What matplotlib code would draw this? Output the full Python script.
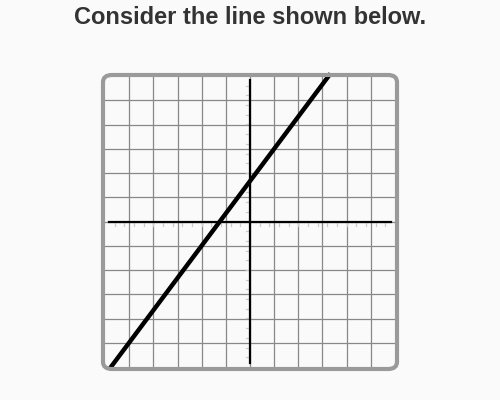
import numpy as np
import matplotlib.pyplot as plt
from matplotlib.patches import FancyBboxPatch

# grid range and the plotted line (y = 4/3 x + 5/3)
grid_min, grid_max = -6, 6
line_x = [-5.83, 3.33]
line_y = [-6.1, 6.1]
title = "Consider the line shown below."

fig = plt.figure(figsize=(5, 4), dpi=100)
fig.patch.set_facecolor("#fafafa")

# rounded frame around the graph (figure pixels)
frame = FancyBboxPatch((103 / 500, 1 - 369 / 400), 294 / 500, 294 / 400,
                       boxstyle="round,pad=0,rounding_size=0.018",
                       transform=fig.transFigure, facecolor="none",
                       edgecolor="#9a9a9a", linewidth=3, zorder=5)
fig.patches.append(frame)

ax = fig.add_axes([105 / 500, 33 / 400, 290 / 500, 291 / 400])
ax.set_zorder(1)
ax.set_xlim(grid_min, grid_max)
ax.set_ylim(grid_min, grid_max)
ax.patch.set_visible(False)
for s in ax.spines.values():
    s.set_visible(False)
ax.set_xticks([])
ax.set_yticks([])

# grid lines
for v in range(grid_min + 1, grid_max):
    ax.axvline(v, color="#888888", lw=0.9, zorder=1)
    ax.axhline(v, color="#888888", lw=0.9, zorder=1)

# small light ticks along the axes
minor = np.arange(-5.6, 5.7, 0.4)
for m in minor:
    if abs(m) < 0.1:
        continue
    ax.plot([m, m], [0, -0.17], color="#cccccc", lw=0.9, zorder=2)
    ax.plot([0, -0.17], [m, m], color="#cccccc", lw=0.9, zorder=2)

# axes
ax.plot([-5.85, 5.85], [0, 0], color="black", lw=1.6, zorder=3)
ax.plot([0, 0], [-5.85, 5.85], color="black", lw=1.6, zorder=3)

# the line
ax.plot(line_x, line_y, color="black", lw=3.2, solid_capstyle="butt",
        clip_on=False, zorder=4)

fig.text(0.5, 1 - 18 / 400, title, ha="center", va="center",
         fontsize=17, fontweight="bold", color="#333333",
         family="Liberation Sans")

fig.savefig("out.png", dpi=100, facecolor=fig.get_facecolor())
